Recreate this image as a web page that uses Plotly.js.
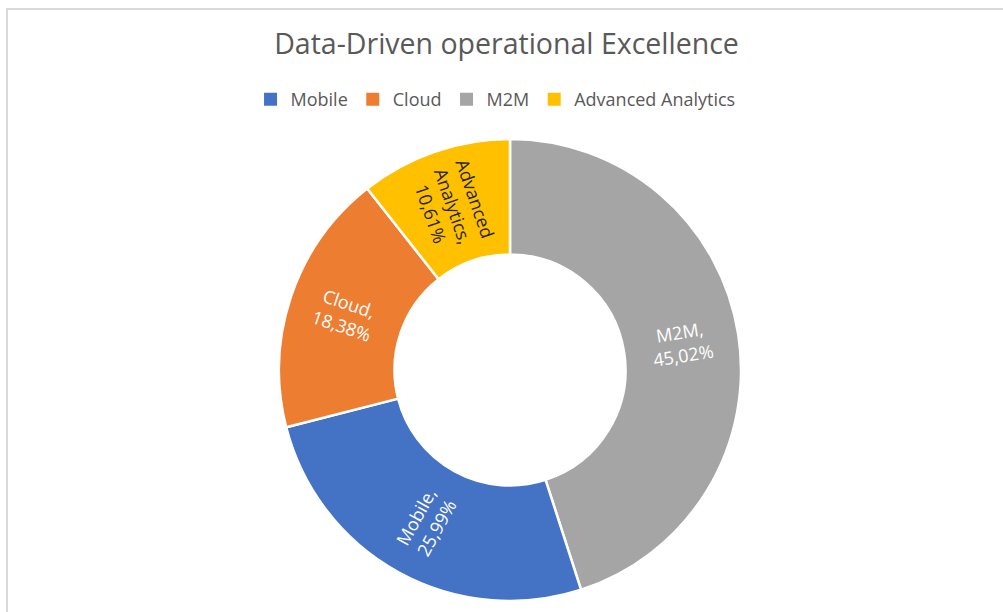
<!DOCTYPE html>
<html>
<head>
<meta charset="utf-8">
<script src="https://cdn.plot.ly/plotly-3.0.1.min.js"></script>
<style>
  html, body { margin: 0; padding: 0; background: #fff; }
  #frame {
    position: absolute; left: 6px; top: 8px;
    width: 997px; height: 604px;
    border-left: 2px solid #dadada; border-top: 2px solid #dadada;
  }
  #my_graph { width: 997px; height: 604px; }
</style>
</head>
<body>
<div id="frame"><div id="my_graph"></div></div>
<script>
// slices, clockwise from 12 o'clock
const slice_labels = ['M2M', 'Mobile', 'Cloud', 'Advanced Analytics'];
const slice_values = [45.02, 25.99, 18.38, 10.61];
const slice_names = ['M2M,', 'Mobile,', 'Cloud,', 'Advanced<br>Analytics,'];
const slice_colors = ['#A5A5A5', '#4472C4', '#ED7D31', '#FFC000'];
const slice_text_colors = ['#ffffff', '#ffffff', '#ffffff', '#262626'];

// legend order as in the original
const legend_names = ['Mobile', 'Cloud', 'M2M', 'Advanced Analytics'];
const legend_colors = ['#4472C4', '#ED7D31', '#A5A5A5', '#FFC000'];

const W = 997, H = 604;
const cx = 502, cy = 360, r = 231; // donut centre / radius in frame px
const hole = 0.5;

const font = '"Open Sans", "Noto Sans", sans-serif';

const donut = {
    type: 'pie',
    labels: slice_labels,
    values: slice_values,
    textinfo: 'none',
    hole: hole,
    sort: false,
    direction: 'clockwise',
    rotation: 0,
    marker: {colors: slice_colors, line: {color: '#ffffff', width: 2.5}},
    showlegend: false,
    domain: {
        x: [(cx - r) / W, (cx + r) / W],
        y: [1 - (cy + r) / H, 1 - (cy - r) / H]
    }
};

const legend_traces = legend_names.map((name, i) => ({
    type: 'scatter',
    mode: 'markers',
    x: [null], y: [null],
    name: name,
    marker: {symbol: 'square', size: 13, color: legend_colors[i]},
    hoverinfo: 'skip'
}));

// data labels, written radially in the middle of the ring (like Excel does)
const total = slice_values.reduce((a, b) => a + b, 0);
const r_mid = r * (1 + hole) / 2;
let cum = 0;
const label_annotations = slice_values.map((v, i) => {
    const theta = (cum + v / 2) / total * 360;
    cum += v;
    const rad = theta * Math.PI / 180;
    let ang = theta - 90;
    if (ang > 90) ang -= 180;
    const pct = (v / total * 100).toFixed(2).replace('.', ',') + '%';
    return {
        xref: 'paper', yref: 'paper',
        x: (cx + r_mid * Math.sin(rad)) / W,
        y: 1 - (cy - r_mid * Math.cos(rad)) / H,
        xanchor: 'center', yanchor: 'middle',
        text: slice_names[i] + '<br>' + pct,
        textangle: ang,
        showarrow: false,
        align: 'center',
        font: {family: font, size: 18, color: slice_text_colors[i]}
    };
});

const layout = {
    width: W, height: H,
    margin: {l: 0, r: 0, t: 0, b: 0},
    paper_bgcolor: '#ffffff',
    plot_bgcolor: 'rgba(0,0,0,0)',
    title: {
        text: 'Data-Driven operational Excellence',
        font: {family: font, size: 28.5, color: '#595959'},
        x: 0.5, xanchor: 'center',
        y: 1 - 34 / H, yanchor: 'middle'
    },
    xaxis: {visible: false, fixedrange: true},
    yaxis: {visible: false, fixedrange: true},
    showlegend: true,
    legend: {
        orientation: 'h',
        x: 0.489, xanchor: 'center',
        y: 1 - 89.5 / H, yanchor: 'middle',
        font: {family: font, size: 18, color: '#595959'},
        itemwidth: 30,
        traceorder: 'normal'
    },
    annotations: label_annotations
};

Plotly.newPlot('my_graph', [donut].concat(legend_traces), layout, {displayModeBar: false, staticPlot: true});
</script>
</body>
</html>
